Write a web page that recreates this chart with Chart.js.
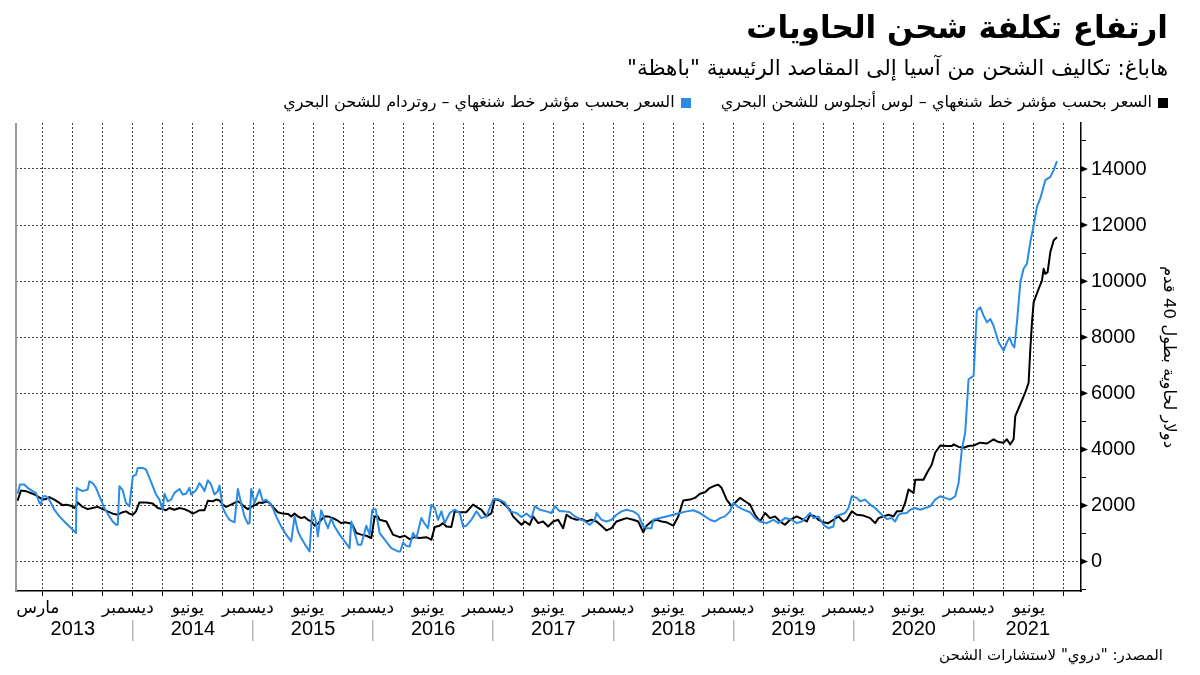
<!DOCTYPE html>
<html lang="ar">
<head>
<meta charset="utf-8">
<script src="https://cdn.jsdelivr.net/npm/chart.js@4.4.1/dist/chart.umd.min.js"></script>
<style>
html,body{margin:0;padding:0;background:#fff;}
#wrap{position:relative;width:1200px;height:675px;overflow:hidden;background:#fff;}
#c{position:absolute;left:0;top:0;}
.t{position:absolute;right:32px;direction:rtl;white-space:nowrap;color:#000;font-family:"DejaVu Sans",sans-serif;line-height:1.2;}
#title{top:9px;font-size:31px;font-weight:bold;}
#sub{top:55px;font-size:21.5px;}
#legend{top:92px;font-size:16px;}
.sw{display:inline-block;width:10px;height:10px;margin-left:6px;vertical-align:middle;}
#source{top:646px;right:37px;font-size:15px;}
</style>
</head>
<body>
<div id="wrap">
<canvas id="c" width="1200" height="675"></canvas>
<div class="t" id="title"></div>
<div class="t" id="sub"></div>
<div class="t" id="legend"></div>
<div class="t" id="source"></div>
</div>
<script>
// ---- texts ----
const titleText = 'ارتفاع تكلفة شحن الحاويات';
const subtitleText = 'هاباغ: تكاليف الشحن من آسيا إلى المقاصد الرئيسية "باهظة"';
const sourceText = 'المصدر: "دروي" لاستشارات الشحن';
const yAxisTitle = 'دولار لحاوية بطول 40 قدم';
const seriesNames = ['السعر بحسب مؤشر خط شنغهاي – لوس أنجلوس للشحن البحري', 'السعر بحسب مؤشر خط شنغهاي – روتردام للشحن البحري'];
const seriesColors = ['#000000', '#2b8ce6'];

// ---- axis ticks (decimal years / dollars) ----
const xMin = 2013.027, xMax = 2021.893;
const monthTickValues = [2013.25, 2014, 2014.5, 2015, 2015.5, 2016, 2016.5, 2017, 2017.5, 2018, 2018.5, 2019, 2019.5, 2020, 2020.5, 2021, 2021.5];
const monthTickLabels = ['مارس', 'ديسمبر', 'يونيو', 'ديسمبر', 'يونيو', 'ديسمبر', 'يونيو', 'ديسمبر', 'يونيو', 'ديسمبر', 'يونيو', 'ديسمبر', 'يونيو', 'ديسمبر', 'يونيو', 'ديسمبر', 'يونيو'];
const yearBoundaries = [2014, 2015, 2016, 2017, 2018, 2019, 2020, 2021];
const yearLabelValues = [2013.5, 2014.5, 2015.5, 2016.5, 2017.5, 2018.5, 2019.5, 2020.5, 2021.45];
const yearLabels = ['2013', '2014', '2015', '2016', '2017', '2018', '2019', '2020', '2021'];
const yMin = -1050, yMax = 15640;
const yMajorTicks = [0, 2000, 4000, 6000, 8000, 10000, 12000, 14000];
const yMinorTicks = [-1000, 1000, 3000, 5000, 7000, 9000, 11000, 13000, 15000];

// ---- series: Shanghai - Los Angeles (black) ----
const laDates = [2013.040,2013.068,2013.110,2013.165,2013.207,2013.249,2013.276,2013.304,2013.346,2013.388,2013.415,2013.443,2013.485,2013.513,2013.540,2013.582,2013.624,2013.665,2013.707,2013.749,2013.790,2013.832,2013.874,2013.915,2013.943,2013.971,2013.999,
2014.026,2014.054,2014.110,2014.165,2014.207,2014.249,2014.276,2014.304,2014.346,2014.388,2014.429,2014.471,2014.499,2014.526,2014.554,2014.596,2014.624,2014.665,2014.693,2014.721,2014.749,2014.776,2014.818,2014.846,2014.874,2014.901,2014.929,2014.957,2014.985,
2015.026,2015.054,2015.082,2015.110,2015.138,2015.165,2015.207,2015.249,2015.290,2015.318,2015.346,2015.374,2015.401,2015.429,2015.457,2015.485,2015.513,2015.540,2015.568,2015.596,2015.624,2015.665,2015.693,2015.735,2015.763,2015.804,2015.832,2015.860,2015.901,2015.943,2015.985,
2016.013,2016.040,2016.054,2016.110,2016.165,2016.221,2016.263,2016.304,2016.346,2016.388,2016.443,2016.485,2016.513,2016.554,2016.582,2016.610,2016.651,2016.679,2016.721,2016.776,2016.832,2016.874,2016.901,2016.943,2016.985,
2017.013,2017.054,2017.096,2017.138,2017.165,2017.207,2017.235,2017.263,2017.304,2017.332,2017.374,2017.415,2017.457,2017.499,2017.540,2017.582,2017.610,2017.651,2017.693,2017.735,2017.776,2017.818,2017.860,2017.901,2017.943,2017.985,
2018.026,2018.068,2018.110,2018.165,2018.207,2018.249,2018.276,2018.318,2018.360,2018.401,2018.443,2018.499,2018.540,2018.582,2018.638,2018.679,2018.721,2018.763,2018.804,2018.846,2018.874,2018.901,2018.943,2018.985,
2019.026,2019.054,2019.096,2019.138,2019.179,2019.221,2019.263,2019.304,2019.346,2019.388,2019.429,2019.471,2019.526,2019.568,2019.610,2019.638,2019.679,2019.707,2019.749,2019.790,2019.832,2019.874,2019.915,2019.943,2019.985,
2020.026,2020.082,2020.138,2020.179,2020.207,2020.249,2020.290,2020.332,2020.360,2020.401,2020.429,2020.457,2020.499,2020.513,2020.582,2020.610,2020.651,2020.679,2020.721,2020.776,2020.818,2020.832,2020.874,2020.915,2020.957,2020.999,
2021.054,2021.110,2021.165,2021.207,2021.249,2021.276,2021.304,2021.332,2021.346,2021.388,2021.429,2021.457,2021.471,2021.485,2021.499,2021.540,2021.568,2021.582,2021.596,2021.615,2021.638,2021.665,2021.693];
const laValues = [2170,2530,2510,2420,2330,2210,2230,2300,2210,2090,2010,2030,1990,1910,2110,1950,1870,1910,1950,1870,1790,1710,1670,1760,1790,1710,1670,
1790,2110,2110,2070,1910,1870,1830,1910,1850,1910,1870,1790,1710,1760,1830,1830,2170,2150,2210,2180,2030,1950,2030,2090,2150,2070,1950,1870,1950,
2030,2110,2090,2150,2090,1950,1760,1710,1700,1610,1710,1610,1550,1590,1490,1430,1280,1350,1490,1610,1610,1550,1490,1370,1400,1370,1280,1020,960,920,840,
1610,1610,1490,1430,960,870,920,800,870,840,870,780,1230,1280,1370,1250,1230,1790,1760,1760,2030,1910,1850,1610,1730,
2230,2180,2030,1850,1610,1430,1310,1430,1310,1610,1370,1430,1250,1430,1490,1190,1670,1550,1490,1520,1430,1490,1430,1280,1110,1190,
1430,1490,1550,1490,1430,1040,1280,1430,1490,1430,1400,1280,1610,2180,2210,2270,2420,2470,2630,2710,2740,2630,2210,1970,
2150,2270,2150,2030,1670,1430,1730,1550,1610,1430,1310,1490,1610,1520,1430,1670,1610,1490,1400,1370,1490,1610,1430,1490,1790,
1670,1640,1550,1370,1550,1610,1670,1610,1790,1790,2090,2570,2450,2920,2920,3160,3460,3880,4140,4120,4120,4180,4090,4060,4120,4140,
4240,4210,4360,4260,4240,4360,4180,4360,5190,5610,6030,6380,7580,8530,9250,9720,10020,10440,10260,10320,11040,11450,11570];

// ---- series: Shanghai - Rotterdam (blue) ----
const rdDates = [2013.040,2013.060,2013.096,2013.124,2013.165,2013.193,2013.221,2013.235,2013.249,2013.276,2013.304,2013.346,2013.388,2013.429,2013.471,2013.513,2013.526,2013.532,2013.554,2013.582,2013.624,2013.638,2013.665,2013.693,2013.721,2013.763,2013.804,2013.832,2013.860,2013.874,2013.888,2013.915,2013.943,2013.971,2013.999,
2014.026,2014.040,2014.082,2014.110,2014.138,2014.165,2014.193,2014.221,2014.249,2014.263,2014.290,2014.318,2014.346,2014.388,2014.415,2014.443,2014.471,2014.485,2014.526,2014.554,2014.582,2014.596,2014.624,2014.651,2014.679,2014.707,2014.721,2014.749,2014.776,2014.804,2014.846,2014.874,2014.901,2014.929,2014.957,2014.971,2014.985,
2015.013,2015.054,2015.082,2015.110,2015.138,2015.165,2015.193,2015.235,2015.276,2015.318,2015.346,2015.374,2015.401,2015.443,2015.471,2015.493,2015.521,2015.540,2015.568,2015.596,2015.624,2015.651,2015.679,2015.721,2015.763,2015.804,2015.818,2015.846,2015.874,2015.901,2015.943,2015.971,2015.993,
2016.021,2016.054,2016.096,2016.151,2016.207,2016.226,2016.249,2016.276,2016.304,2016.332,2016.360,2016.401,2016.429,2016.457,2016.485,2016.513,2016.540,2016.568,2016.596,2016.638,2016.679,2016.721,2016.749,2016.776,2016.818,2016.860,2016.901,2016.943,2016.999,
2017.040,2017.096,2017.138,2017.193,2017.235,2017.276,2017.318,2017.346,2017.388,2017.443,2017.485,2017.513,2017.554,2017.596,2017.638,2017.679,2017.721,2017.763,2017.804,2017.846,2017.860,2017.901,2017.943,2017.985,
2018.026,2018.068,2018.110,2018.165,2018.207,2018.249,2018.276,2018.318,2018.332,2018.388,2018.443,2018.499,2018.554,2018.610,2018.665,2018.721,2018.763,2018.804,2018.846,2018.888,2018.929,2018.971,2018.999,
2019.040,2019.082,2019.138,2019.179,2019.221,2019.276,2019.332,2019.374,2019.429,2019.485,2019.526,2019.568,2019.610,2019.638,2019.665,2019.707,2019.749,2019.790,2019.832,2019.846,2019.888,2019.929,2019.957,2019.985,
2020.026,2020.054,2020.096,2020.138,2020.179,2020.221,2020.249,2020.276,2020.318,2020.346,2020.374,2020.401,2020.443,2020.471,2020.513,2020.554,2020.596,2020.638,2020.679,2020.721,2020.763,2020.804,2020.846,2020.874,2020.901,2020.929,2020.957,2020.999,
2021.026,2021.054,2021.082,2021.110,2021.138,2021.165,2021.207,2021.249,2021.276,2021.299,2021.318,2021.338,2021.360,2021.388,2021.415,2021.443,2021.471,2021.499,2021.526,2021.554,2021.596,2021.638,2021.665,2021.693];
const rdValues = [2420,2750,2750,2630,2510,2450,2090,2050,2330,2330,2210,1850,1610,1430,1250,1080,1020,2630,2570,2510,2570,2860,2800,2630,2330,1910,1610,1430,1310,1310,2690,2540,2090,1970,3040,
3100,3340,3340,3280,2980,2690,2390,2210,1850,2420,2150,2210,2450,2590,2390,2420,2630,2390,2540,2800,2630,2510,2900,2750,2390,2510,2710,1910,1670,1490,1400,2590,2090,1610,1350,1370,2590,
2090,2570,2150,2210,2090,1910,1610,1250,960,720,1610,1080,840,540,360,1830,1490,900,1830,1490,1190,1550,1250,960,720,480,1430,1020,600,600,1280,960,1850,
1870,1020,780,480,360,360,680,560,540,1020,840,1550,1350,1190,2030,1910,1490,1790,1370,1730,1850,1730,1250,1280,1490,1790,1550,1610,2210,
2230,2110,1790,1730,1590,1710,1550,1970,1850,1790,1730,1970,1790,1790,1760,1610,1520,1430,1310,1490,1730,1490,1430,1490,
1670,1790,1850,1790,1670,1250,1190,1190,1490,1550,1610,1670,1730,1790,1830,1730,1610,1490,1430,1550,1610,1790,2090,
1950,1850,1760,1550,1430,1370,1490,1370,1550,1490,1370,1430,1610,1730,1550,1610,1310,1190,1250,1610,1670,1730,1910,2330,
2270,2150,2210,2030,1910,1730,1610,1520,1550,1430,1670,1710,1730,1850,1910,1850,1910,1970,2210,2330,2270,2210,2330,2800,4000,4600,6500,6620,
8950,9070,8770,8530,8650,8410,7820,7520,7820,7990,7760,7640,8530,9960,10440,10620,11390,11990,12650,12950,13600,13720,13960,14280];

// ---- HTML texts ----
document.getElementById('title').textContent = titleText;
document.getElementById('sub').textContent = subtitleText;
document.getElementById('source').textContent = sourceText;
(function buildLegend(){
  const lg = document.getElementById('legend');
  seriesNames.forEach((name, i) => {
    const sw = document.createElement('span');
    sw.className = 'sw';
    sw.style.background = seriesColors[i];
    if (i > 0) sw.style.marginRight = '30px';
    lg.appendChild(sw);
    lg.appendChild(document.createTextNode(name));
  });
})();

// ---- helpers ----
const near = (a, b) => Math.abs(a - b) < 1e-6;
const isMajorY = v => yMajorTicks.some(t => near(t, v));
const isBoundary = c => !!(c.tick && yearBoundaries.some(t => near(t, c.tick.value)));
const quarterTicks = [];
for (let y = 2013; y <= 2021; y++) { for (let q = 0; q < 4; q++) { const v = y + q * 0.25; if (v >= xMin && v <= xMax) quarterTicks.push(v); } }
const yearTickValues = yearBoundaries.concat(yearLabelValues).sort((a, b) => a - b);

const axisDecor = {
  id: 'axisDecor',
  afterDraw(chart) {
    const ctx = chart.ctx, ys = chart.scales.y, ca = chart.chartArea;
    ctx.save();
    ctx.strokeStyle = '#9a9a9a'; ctx.lineWidth = 2;
    ctx.beginPath(); ctx.moveTo(ca.left, ca.top); ctx.lineTo(ca.left, ca.bottom); ctx.stroke();
    ctx.fillStyle = '#000';
    yMajorTicks.forEach(v => {
      const py = ys.getPixelForValue(v);
      ctx.beginPath(); ctx.moveTo(ca.right, py - 3); ctx.lineTo(ca.right + 7, py); ctx.lineTo(ca.right, py + 3); ctx.closePath(); ctx.fill();
    });
    ctx.restore();
  }
};

const toPoints = (xs, ys) => xs.map((x, i) => ({x: x, y: ys[i]}));

new Chart(document.getElementById('c'), {
  type: 'line',
  data: {
    datasets: [
      {label: seriesNames[0], data: toPoints(laDates, laValues), borderColor: seriesColors[0], backgroundColor: seriesColors[0], borderWidth: 2, pointRadius: 0, tension: 0, borderJoinStyle: 'round', order: 2},
      {label: seriesNames[1], data: toPoints(rdDates, rdValues), borderColor: seriesColors[1], backgroundColor: seriesColors[1], borderWidth: 2, pointRadius: 0, tension: 0, borderJoinStyle: 'round', order: 1}
    ]
  },
  options: {
    responsive: false,
    animation: false,
    events: [],
    layout: {padding: {top: 123, left: 16, right: 0, bottom: 0}},
    plugins: {legend: {display: false}, tooltip: {enabled: false}, title: {display: false}},
    scales: {
      x: {
        type: 'linear', position: 'bottom', min: xMin, max: xMax, weight: 0,
        afterBuildTicks: s => { s.ticks = quarterTicks.map(v => ({value: v})); },
        afterFit: s => { s.height = 29; },
        grid: {color: 'rgba(0,0,0,0.75)', lineWidth: 1, tickLength: 5, tickColor: '#000', drawTicks: true},
        border: {display: true, color: '#000', width: 1.5, dash: [2, 2]},
        ticks: {
          autoSkip: false, maxRotation: 0, minRotation: 0, padding: 2, labelOffset: -5, color: '#000',
          font: {family: 'DejaVu Sans', size: 17},
          callback: v => { const i = monthTickValues.findIndex(t => near(t, v)); return i >= 0 ? monthTickLabels[i] : ''; }
        }
      },
      x2: {
        type: 'linear', position: 'bottom', min: xMin, max: xMax, weight: 1,
        afterBuildTicks: s => { s.ticks = yearTickValues.map(v => ({value: v})); },
        afterFit: s => { s.height = 55; },
        grid: {
          display: true, drawOnChartArea: false, drawTicks: true, tickLength: 21, lineWidth: 1.5,
          color: c => isBoundary(c) ? '#b5b5b5' : 'rgba(0,0,0,0)',
          tickColor: c => isBoundary(c) ? '#b5b5b5' : 'rgba(0,0,0,0)'
        },
        border: {display: false},
        ticks: {
          autoSkip: false, maxRotation: 0, minRotation: 0, padding: -24, color: '#000',
          font: {family: 'Liberation Sans', size: 20},
          callback: v => { const i = yearLabelValues.findIndex(t => near(t, v)); return i >= 0 ? yearLabels[i] : ''; }
        }
      },
      y: {
        type: 'linear', position: 'right', min: yMin, max: yMax,
        afterBuildTicks: s => { s.ticks = yMajorTicks.concat(yMinorTicks).sort((a, b) => a - b).map(v => ({value: v})); },
        afterFit: s => { s.width = 119; },
        grid: {
          lineWidth: 1, tickLength: 5, drawTicks: true,
          color: c => (c.tick && isMajorY(c.tick.value)) ? 'rgba(0,0,0,0.75)' : 'rgba(0,0,0,0)',
          tickColor: c => (c.tick && isMajorY(c.tick.value)) ? 'rgba(0,0,0,0)' : '#000'
        },
        border: {display: true, color: '#000', width: 1.5, dash: [2, 2]},
        ticks: {
          padding: 5, color: '#000', font: {family: 'Liberation Sans', size: 20},
          callback: v => isMajorY(v) ? String(v) : ''
        },
        title: {display: true, text: yAxisTitle, color: '#000', font: {family: 'DejaVu Sans', size: 16.5}, padding: {top: 22, bottom: 0}}
      }
    }
  },
  plugins: [axisDecor]
});
</script>
</body>
</html>
